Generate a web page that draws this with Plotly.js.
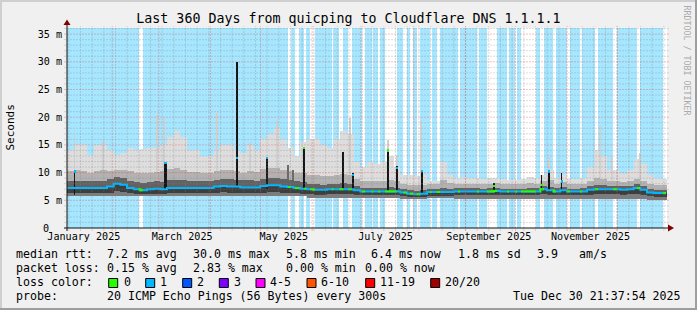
<!DOCTYPE html>
<html><head><meta charset="utf-8">
<script src="https://cdn.plot.ly/plotly-3.0.1.min.js"></script>
<style>html,body{margin:0;padding:0;background:#f0f0f0;}#chart{width:697px;height:310px;}</style>
</head><body><div id="chart"></div>
<script>
// ---------- time frame ----------
const START = Date.UTC(2025, 0, 4, 21, 37, 54);   // 360 days before Tue Dec 30 21:37:54 2025
const DAY = 86400000;
const SPAN_DAYS = 360;
const BIN_DAYS = 4;          // each smoke column below covers 4 days
const DATA_END = 359.4;      // days after START where samples stop
const Y_MAX = 36.1;          // ms

// ---------- smoke per 4-day column (ms) ----------
const hi = [14.0,15.0,15.0,13.2,15.0,15.0,14.0,13.2,13.5,14.5,
            14.0,14.2,14.5,14.5,15.0,16.5,17.5,16.5,14.0,14.0,
            13.0,13.0,14.0,15.0,15.0,14.0,13.5,15.0,14.0,16.0,
            17.0,18.0,16.0,14.5,13.0,15.5,16.0,16.0,15.0,14.5,
            16.0,17.5,17.0,12.0,11.0,12.0,11.5,12.0,13.0,11.0,
            9.5,9.5,9.3,9.5,8.5,8.5,12.0,9.5,9.0,9.2,
            9.0,9.0,8.8,9.0,9.0,8.8,8.7,8.7,8.8,9.2,
            9.0,9.5,10.5,9.0,9.5,8.8,8.8,9.0,11.0,14.0,
            13.0,10.5,10.5,9.8,10.5,12.5,11.5,9.5,9.0,8.8];
const med = [7.2,7.2,7.2,7.2,7.2,7.2,7.5,8.0,7.8,7.2,
             7.0,6.8,7.0,7.1,7.0,7.2,7.2,7.2,7.2,7.2,
             7.2,7.2,7.5,7.6,7.5,7.5,7.3,7.3,7.3,7.6,
             7.7,7.7,7.5,7.4,7.2,7.1,7.0,6.9,6.9,7.0,
             7.0,7.0,7.0,6.8,6.6,6.6,6.6,6.6,6.6,6.6,
             6.4,6.2,6.1,6.2,6.5,6.5,6.5,6.5,6.6,6.6,
             6.6,6.6,6.6,6.6,6.7,6.6,6.6,6.6,6.6,6.6,
             6.6,7.0,6.8,6.6,6.8,6.6,6.6,6.6,6.9,7.0,
             7.0,7.0,7.0,6.9,7.0,7.2,6.9,6.4,6.3,6.3];
const lo  = [5.7,5.7,5.7,5.7,5.7,5.7,5.7,5.7,5.7,5.7,
             5.7,5.7,5.7,5.7,5.7,5.7,5.7,5.7,5.7,5.7,
             5.7,5.7,5.7,5.7,5.7,5.7,5.7,5.7,5.7,5.7,
             5.7,5.7,5.7,5.7,5.7,5.7,5.4,5.4,5.4,5.4,
             5.4,5.4,5.4,5.4,5.4,5.4,5.4,5.4,5.4,5.4,
             5.3,5.2,5.2,5.2,5.4,5.4,5.4,5.4,5.2,5.2,
             5.2,5.2,5.2,5.2,5.2,5.2,5.2,5.2,5.2,5.2,
             5.2,5.2,5.2,5.2,5.2,5.2,5.2,5.2,5.2,5.2,
             5.2,5.2,5.2,5.2,5.2,5.2,5.2,5.1,5.1,5.1];
const p25 = [6.3,6.3,6.3,6.3,6.3,6.3,6.4,6.6,6.5,6.3,
             6.2,6.1,6.2,6.2,6.2,6.3,6.3,6.3,6.3,6.3,
             6.3,6.3,6.4,6.5,6.4,6.4,6.3,6.3,6.3,6.4,
             6.5,6.5,6.4,6.4,6.3,6.2,6.1,6.0,6.0,6.1,
             6.1,6.1,6.1,6.0,5.9,5.9,5.9,5.9,5.9,5.9,
             5.8,5.6,5.6,5.6,5.8,5.8,5.8,5.8,5.9,5.9,
             5.9,5.9,5.9,5.9,5.9,5.9,5.9,5.9,5.9,5.9,
             5.9,6.1,6.0,5.9,6.0,5.9,5.9,5.9,6.0,6.1,
             6.1,6.1,6.1,6.0,6.1,6.2,6.0,5.7,5.6,5.6];
const p75 = [8.5,8.5,8.5,8.5,8.5,8.5,8.8,9.2,9.0,8.5,
             8.3,8.1,8.3,8.4,8.3,8.6,8.7,8.6,8.4,8.4,
             8.4,8.4,8.7,8.9,8.8,8.7,8.6,8.6,8.5,8.9,
             9.0,9.1,8.8,8.6,8.4,8.3,8.0,7.9,7.8,7.9,
             8.0,8.1,8.0,7.6,7.3,7.3,7.3,7.3,7.4,7.3,
             7.0,6.8,6.7,6.8,7.1,7.1,7.2,7.1,7.2,7.2,
             7.2,7.2,7.1,7.2,7.3,7.1,7.1,7.1,7.1,7.2,
             7.2,7.6,7.4,7.2,7.4,7.1,7.1,7.2,7.5,7.7,
             7.7,7.6,7.6,7.5,7.6,7.9,7.6,7.0,6.9,6.9];
const p90 = [10.2,10.5,10.3,10.0,10.3,10.4,10.3,10.5,10.4,10.2,
             10.0,9.9,10.0,10.1,10.2,10.6,10.8,10.5,10.1,10.1,
             9.9,9.9,10.3,10.5,10.4,10.2,10.0,10.3,10.1,10.6,
             10.8,10.9,10.5,10.2,9.9,10.0,9.6,9.5,9.4,9.4,
             9.6,9.8,9.6,8.8,8.4,8.5,8.4,8.5,8.7,8.4,
             8.0,7.8,7.7,7.8,8.0,8.0,8.6,8.1,8.0,8.0,
             8.0,8.0,7.9,8.0,8.1,7.9,7.9,7.9,7.9,8.1,
             8.0,8.4,8.6,8.0,8.3,7.9,7.9,8.0,8.5,9.0,
             8.8,8.5,8.5,8.3,8.5,8.9,8.5,7.9,7.8,7.7];

// ---------- single-column events (day offset from START, ms) ----------
const spikeDay = [4.5, 58.8, 102.0, 120.0, 142.2, 165.6, 171.6, 192.6, 198.0, 213.0, 256.2, 284.7, 289.2, 296.7];
const spikeSpan= [0.9, 1.8, 0.9, 0.9, 1.0, 0.9, 0.9, 0.9, 0.9, 1.2, 0.9, 0.9, 1.0, 0.9];
const spikeLo  = [6.0, 7.0, 7.5, 7.0, 7.0, 7.0, 6.8, 6.6, 6.8, 6.3, 6.6, 6.6, 6.7, 6.6];
const spikeHi  = [10.2, 11.8, 30.0, 12.6, 14.7, 13.8, 10.0, 14.1, 11.2, 10.5, 8.2, 9.6, 10.3, 9.9];
const spikeMed = [10.2, 11.7, 12.6, 12.6, 14.5, null, 9.5, 14.0, 10.8, 10.3, 7.6, 7.8, 10.2, 8.4];
const greySpikeDay = [4.5, 21.6, 54.0, 58.2, 90.0, 109.8, 126.0, 169.8, 192.6, 198.0, 212.4, 289.2, 319.8, 327.0, 343.8];
const greySpikeHi  = [17.0, 15.8, 20.4, 19.9, 20.7, 15.6, 19.5, 19.9, 15.8, 13.2, 19.5, 12.9, 18.6, 13.0, 13.6];
const darkSpikeDay = [132.6, 135.6];
const darkSpikeHi  = [11.4, 10.5];

// ---------- periods with 1/20 loss (day offsets) ----------
const lossStart = [0, 45.6, 134.2, 139.4, 143.4, 148.8, 159.8, 165.8, 170.8, 178.8, 183.8, 187.8, 197.8, 203.8, 207.8, 211.8, 218.8, 223.8, 235.8, 247.2, 258.0, 265.2, 270.0, 281.4, 286.2, 293.4, 301.8, 309.0, 318.6, 330.0, 343.8];
const lossEnd   = [42.9, 132.8, 136.8, 142.2, 145.8, 158.8, 163.4, 168.8, 176.8, 182.8, 186.8, 190.8, 201.8, 205.8, 209.8, 217.8, 221.8, 234.6, 246.0, 252.0, 264.0, 268.8, 272.4, 283.8, 291.6, 300.0, 307.8, 316.8, 327.6, 342.0, 357.6];

// ---------- labels ----------
const monthLabelDates = [[2025,0,15],[2025,2,15],[2025,4,15],[2025,6,15],[2025,8,15],[2025,10,15]];
const monthLabels = ['January 2025','March 2025','May 2025','July 2025','September 2025','November 2025'];
const yTickVals = [5,10,15,20,25,30,35];
const yTickText = ['5 m','10 m','15 m','20 m','25 m','30 m','35 m'];
const lossNames  = ['0','1','2','3','4-5','6-10','11-19','20/20'];
const lossColors = ['#26ff00','#00b8ff','#0059ff','#7e00ff','#ff00ff','#ff5500','#ff0000','#a10000'];

// ---------- helpers ----------
const T = d => START + d * DAY;
const binOf = d => Math.max(0, Math.min(med.length - 1, Math.floor(d / BIN_DAYS)));
const lossAt = d => lossStart.some((s, i) => d >= s && d < lossEnd[i]);
const PX = px => (px - 67) / 600;       // page pixel -> paper x
const PY = py => (228 - py) / 200;      // page pixel -> paper y
const BLUE = lossColors[1], GREEN = lossColors[0];

const nb = med.length;
const binX = [], binW = [];
for (let i = 0; i < nb; i++) { binX.push(T((i + 0.5) * BIN_DAYS)); binW.push(BIN_DAYS * DAY); }

function band(lower, upper, color) {
  return {type:'bar', x:binX, width:binW, base:lower, y:upper.map((u, i) => u - lower[i]),
          marker:{color:color, line:{width:0}}, hoverinfo:'skip'};
}
function narrow(days, spans, bases, tops, color) {
  return {type:'bar', x:days.map(T), width:spans.map(s => s * DAY), base:bases,
          y:tops.map((t, i) => t - bases[i]), marker:{color:color, line:{width:0}}, hoverinfo:'skip'};
}

const traces = [];
// loss background
traces.push({type:'bar', x:lossStart.map((s, i) => T((s + lossEnd[i]) / 2)),
  width:lossStart.map((s, i) => (lossEnd[i] - s) * DAY), base:lossStart.map(() => 0),
  y:lossStart.map(() => Y_MAX), marker:{color:'#a6e6ff', line:{width:0}}, hoverinfo:'skip'});
// smoke
traces.push(band(lo, hi, '#dddddd'));
traces.push(narrow(greySpikeDay, greySpikeDay.map(() => 1.0), greySpikeDay.map(d => lo[binOf(d)]), greySpikeHi, '#d0d0d0'));
traces.push(band(lo, p90, '#b2b2b2'));
traces.push(band(lo, p25, '#7c7c7c'));
traces.push(band(p25, p75, '#626262'));
traces.push(band(p25, med, '#3e3e3e'));
traces.push(narrow(darkSpikeDay, darkSpikeDay.map(() => 0.9), darkSpikeDay.map(d => p75[binOf(d)]), darkSpikeHi, '#6a6a6a'));
traces.push(narrow(spikeDay, spikeSpan, spikeLo, spikeHi, '#151515'));

// median line (blue everywhere, green where no loss)
const mx = [], my = [];
for (let i = 0; i < nb; i++) { mx.push(T(i * BIN_DAYS)); my.push(med[i]); }
mx.push(T(DATA_END)); my.push(med[nb - 1]);
traces.push({type:'scatter', mode:'lines', x:mx, y:my, line:{color:BLUE, width:2, shape:'hv'}, hoverinfo:'skip'});
const gx = [], gy = [];
const edges = [0];
lossStart.forEach((s, i) => { edges.push(s); edges.push(lossEnd[i]); });
edges.push(DATA_END);
for (let k = 0; k < edges.length; k += 2) {
  const a = edges[k], b = edges[k + 1];
  if (b - a <= 0.01) continue;
  gx.push(T(a)); gy.push(med[binOf(a)]);
  for (let j = Math.ceil(a / BIN_DAYS); j * BIN_DAYS < b; j++) {
    if (j * BIN_DAYS > a) { gx.push(T(j * BIN_DAYS)); gy.push(med[binOf(j * BIN_DAYS)]); }
  }
  gx.push(T(b)); gy.push(med[binOf(b - 0.001)]);
  gx.push(null); gy.push(null);
}
traces.push({type:'scatter', mode:'lines', x:gx, y:gy, line:{color:GREEN, width:2, shape:'hv'}, connectgaps:false, hoverinfo:'skip'});
// medians of the spike columns
const sIdx = spikeMed.map((m, i) => i).filter(i => spikeMed[i] !== null);
traces.push({type:'bar', x:sIdx.map(i => T(spikeDay[i])), width:sIdx.map(i => Math.max(spikeSpan[i], 1.2) * DAY),
  base:sIdx.map(i => spikeMed[i] - 0.2), y:sIdx.map(() => 0.4),
  marker:{color:sIdx.map(i => lossAt(spikeDay[i]) ? BLUE : GREEN), line:{width:0}}, hoverinfo:'skip'});

// ---------- grid, frame, axes ----------
const shapes = [];
const GRID = 'rgba(130,130,130,0.55)', MGRID = 'rgba(222,80,80,0.7)';
for (let v = 1; v <= Math.floor(Y_MAX); v++) {
  shapes.push({type:'line', layer:'above', xref:'paper', yref:'y', x0:PX(64.5), x1:PX(670), y0:v, y1:v,
    line:{color: v % 5 === 0 ? MGRID : GRID, width:1, dash:'1px,2px'}});
}
// weekly minor grid (Mondays) and monthly major grid
for (let t = Date.UTC(2025, 0, 6); t < START + SPAN_DAYS * DAY; t += 7 * DAY) {
  if (t <= START) continue;
  shapes.push({type:'line', layer:'above', xref:'x', yref:'paper', x0:t, x1:t, y0:PY(230.5), y1:PY(26),
    line:{color:GRID, width:1, dash:'1px,2px'}});
}
for (let m = 1; m <= 11; m++) {
  const t = Date.UTC(2025, m, 1);
  shapes.push({type:'line', layer:'above', xref:'x', yref:'paper', x0:t, x1:t, y0:PY(230.5), y1:PY(26),
    line:{color:MGRID, width:1, dash:'1px,2px'}});
}
// axes with arrows
shapes.push({type:'line', layer:'above', xref:'paper', yref:'paper', x0:PX(64), x1:PX(669), y0:PY(228), y1:PY(228), line:{color:'#101010', width:1}});
shapes.push({type:'line', layer:'above', xref:'paper', yref:'paper', x0:PX(67), x1:PX(67), y0:PY(231), y1:PY(25), line:{color:'#101010', width:1}});
shapes.push({type:'path', layer:'above', xref:'paper', yref:'paper',
  path:`M ${PX(668)} ${PY(224.5)} L ${PX(674)} ${PY(228)} L ${PX(668)} ${PY(231.5)} Z`, fillcolor:'#7f0000', line:{width:0}});
shapes.push({type:'path', layer:'above', xref:'paper', yref:'paper',
  path:`M ${PX(63.5)} ${PY(25)} L ${PX(67)} ${PY(19.5)} L ${PX(70.5)} ${PY(25)} Z`, fillcolor:'#7f0000', line:{width:0}});
// 3D frame
const rect = (x0, y0, x1, y1, c) => shapes.push({type:'rect', layer:'above', xref:'paper', yref:'paper',
  x0:PX(x0), x1:PX(x1), y0:PY(y0), y1:PY(y1), fillcolor:c, line:{width:0}});
rect(0, 0, 697, 2, '#cfcfcf');
rect(0, 0, 2, 310, '#cfcfcf');
rect(0, 308, 697, 310, '#9e9e9e');
rect(695, 0, 697, 310, '#9e9e9e');
// loss colour boxes
const boxX = [108.7, 145.7, 182.7, 219.3, 256, 307, 365.7, 430.7];
const boxLabelX = [123.5, 160.2, 196.8, 233.5, 270.2, 321.2, 379.5, 444.5];
lossColors.forEach((c, i) => shapes.push({type:'rect', layer:'above', xref:'paper', yref:'paper',
  x0:PX(boxX[i]), x1:PX(boxX[i] + 9), y0:PY(278.5), y1:PY(287.5), fillcolor:c, line:{color:'#000', width:1}}));

// ---------- texts ----------
const LF = {family:'DejaVu Sans Mono', size:11.6, color:'#000'};
const AF = {family:'DejaVu Sans Mono', size:10.1, color:'#000'};
const annotations = [];
function A(text, px, py, opt) {
  annotations.push(Object.assign({text:text.replace(/ /g, '\u00a0'), xref:'paper', yref:'paper', x:PX(px), y:PY(py),
    xanchor:'left', yanchor:'middle', showarrow:false, borderpad:0, borderwidth:0, font:LF}, opt || {}));
}
const L1 = 254.3, L2 = 268.3, L3 = 282.3, L4 = 296.3;
A('median rtt:', 15.5, L1); A('7.2 ms avg', 106.8, L1); A('30.0 ms max', 192.8, L1); A('5.8 ms min', 286.2, L1);
A('6.4 ms now', 371.5, L1); A('1.8 ms sd', 457.8, L1); A('3.9', 537.2, L1); A('am/s', 578.8, L1);
A('packet loss:', 15.5, L2); A('0.15 % avg', 106.8, L2); A('2.83 % max', 192.8, L2); A('0.00 % min', 286.2, L2);
A('0.00 % now', 364.5, L2);
A('loss color:', 15.5, L3);
lossNames.forEach((n, i) => A(n, boxLabelX[i], L3));
A('probe:', 15.5, L4); A('20 ICMP Echo Pings (56 Bytes) every 300s', 106.8, L4);
A('Tue Dec 30 21:37:54 2025', 680.5, L4, {xanchor:'right'});
A('0', 48.5, 228.5, {xanchor:'right', font:AF});
A('Seconds', 10, 127.5, {xanchor:'center', textangle:-90, font:{family:'DejaVu Sans Mono', size:11, color:'#000'}});
A('RRDTOOL / TOBI OETIKER', 686.5, 60, {xanchor:'center', textangle:90, font:{family:'DejaVu Sans Mono', size:8.3, color:'#ababab'}});

const layout = {
  width:697, height:310,
  margin:{l:67, r:30, t:28, b:82, pad:0},
  paper_bgcolor:'#f0f0f0', plot_bgcolor:'#ffffff',
  barmode:'overlay', bargap:0, showlegend:false,
  font:AF,
  title:{text:'Last 360 Days from quicping to Cloudflare DNS 1.1.1.1',
    font:{family:'DejaVu Sans Mono', size:13.3, color:'#000'},
    x:0.5, xref:'container', xanchor:'center', y:1 - 18.5 / 310, yref:'container', yanchor:'middle'},
  xaxis:{type:'date', range:[START, START + SPAN_DAYS * DAY], showgrid:false, zeroline:false, showline:false,
    ticks:'', tickvals:monthLabelDates.map(d => Date.UTC(d[0], d[1], d[2])), ticktext:monthLabels,
    tickfont:AF, ticklabelstandoff:1, fixedrange:true},
  yaxis:{range:[0, Y_MAX], showgrid:false, zeroline:false, showline:false, ticks:'',
    tickvals:yTickVals, ticktext:yTickText, tickfont:AF, ticklabelstandoff:4, fixedrange:true},
  shapes:shapes, annotations:annotations
};
Plotly.newPlot('chart', traces, layout, {staticPlot:true, displayModeBar:false});
</script></body></html>
